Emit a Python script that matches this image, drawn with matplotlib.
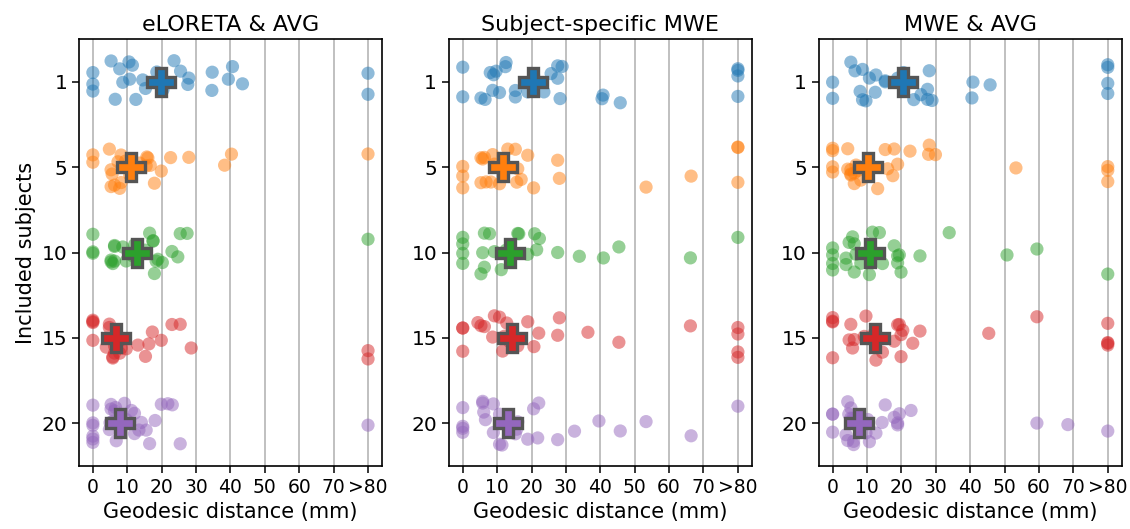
import numpy as np
import pandas as pd
import matplotlib
matplotlib.use("Agg")
import matplotlib.pyplot as plt
import seaborn as sns

titles = ["eLORETA & AVG", "Subject-specific MWE", "MWE & AVG"]
subjects = [1, 5, 10, 15, 20]
xticks = [0, 10, 20, 30, 40, 50, 60, 70, 80]
xticklabels = ["0", "10", "20", "30", "40", "50", "60", "70", ">80"]

# Geodesic distances (mm) per panel and included-subject count; >80 plotted at 80
p1_s1 = [0, 0, 0, 8.7, 6.5, 12.5, 11.5, 7.8, 10.5, 10.7, 5.3, 14.5, 15.3, 18.6, 20.4, 20,
         23.6, 27.6, 25.5, 27.9, 34.7, 34.6, 39.4, 40.6, 43.5, 80, 80]
p1_s5 = [0, 0, 5.3, 7.8, 10.7, 6.3, 8.2, 7.3, 4.8, 5.6, 5.3, 9.5, 8.2, 13.6, 15.5, 15.7,
         16, 16.7, 17.9, 19.9, 22.6, 27.9, 38.3, 40.3, 80]
p1_s10 = [0, 0, 0, 6.3, 5.3, 5.8, 6.3, 9.7, 8.7, 5.3, 6.3, 11.6, 12.1, 15.3, 16.5, 17.5,
          17.9, 17.5, 18.4, 18.9, 20.2, 23, 24.7, 27.4, 25.4, 80]
p1_s15 = [0, 0, 0, 0, 4.8, 5.8, 6.3, 8.1, 3.9, 4.8, 5.8, 6.3, 8.2, 6.3, 7.8, 9.7, 13.1,
          15.3, 16.3, 17.3, 19.9, 23, 25.4, 28.6, 80, 80]
p1_s20 = [0, 0, 0, 0, 0, 0, 5, 5.8, 6.3, 5.3, 5.3, 6.8, 4.8, 6.6, 9.7, 9.2, 11.2, 12.1,
          13.4, 14.1, 12.1, 15.5, 16.5, 18.1, 19.9, 21.8, 23.1, 25.4, 80]

p2_s1 = [0, 0, 9.7, 8.7, 6.5, 9, 12.6, 5.3, 8, 10.7, 12.4, 15.3, 15.3, 18.9, 20.6, 23.6,
         27.6, 25.7, 27.6, 28.3, 28.9, 40.5, 40.8, 45.8, 80, 80, 80, 80]
p2_s5 = [0, 0, 0, 5.3, 8.2, 10.7, 13.1, 8.7, 6.8, 5.3, 5.8, 6.3, 9.2, 11.6, 15.3, 15.7,
         16, 17, 18.9, 20.6, 28.1, 27.6, 53.3, 66.4, 80, 80, 80]
p2_s10 = [0, 0, 0, 0, 5.3, 5.8, 6.3, 7.8, 9.2, 6.3, 11.2, 12.6, 16, 16.3, 18.9, 20.9,
          22.3, 21.5, 27.6, 33.9, 40.9, 45.4, 66.2, 80]
p2_s15 = [0, 0, 4.4, 5.3, 6.3, 8.7, 9.2, 10.7, 12.1, 12.8, 16, 11.6, 13.6, 20.7, 22.1,
          28.1, 27.6, 36.4, 45.4, 18.9, 66.2, 80, 80, 80, 80, 0]
p2_s20 = [0, 0, 0, 0, 5.8, 6.6, 5.8, 6.1, 8.9, 8.9, 10.7, 11.4, 10.7, 13.6, 15.3, 15.7,
          16, 18.9, 20.6, 21.8, 22.1, 27.6, 32.5, 39.6, 45.8, 53.3, 66.4, 80]

p3_s1 = [0, 0, 9.7, 8.7, 6.5, 8.7, 12.6, 5.3, 8, 10.7, 12.4, 15.3, 15.3, 18.9, 20.6, 23.6,
         27.6, 25.7, 27.6, 28.1, 28.9, 40.5, 40.8, 45.8, 80, 80, 80, 80]
p3_s5 = [0, 0, 0, 0, 5.3, 8.2, 13.1, 4.4, 6.3, 7.3, 5.3, 4.4, 5.3, 6.3, 6.8, 16, 17.5,
         17.9, 18.9, 15.3, 22.5, 28.1, 27.9, 29.9, 53.3, 80, 80, 80]
p3_s10 = [0, 0, 0, 0, 3.9, 4.8, 6.3, 3.9, 5.8, 6.8, 10.7, 13.6, 6.3, 8.2, 11.6, 14.5,
          18.9, 18.9, 19.4, 19.9, 17.9, 25.4, 33.9, 50.7, 59.4, 80]
p3_s15 = [0, 0, 0, 0, 5.3, 5.8, 4.8, 6.3, 9.2, 9.7, 12.1, 12.6, 14.5, 17.9, 19.4, 19.9,
          19.9, 23.3, 18.9, 20.4, 25.4, 45.4, 59.4, 80, 80, 80, 80]
p3_s20 = [0, 0, 0, 3.9, 5.8, 5.3, 6.1, 4.4, 4.4, 4.7, 5.3, 6.1, 5.8, 9.7, 10.2, 10.7,
          12.6, 14.4, 15.3, 17.9, 18.9, 19.4, 18.9, 22.8, 59.4, 68.4, 80]

# Summary markers (mm) per panel
p1_center = [19.9, 11.2, 12.9, 6.6, 7.8]
p2_center = [20.4, 11.6, 13.6, 14.4, 13.1]
p3_center = [20.4, 10.4, 10.9, 12.4, 7.8]

panels = [
    ([p1_s1, p1_s5, p1_s10, p1_s15, p1_s20], p1_center),
    ([p2_s1, p2_s5, p2_s10, p2_s15, p2_s20], p2_center),
    ([p3_s1, p3_s5, p3_s10, p3_s15, p3_s20], p3_center),
]

colors = sns.color_palette("tab10", 5)

fig, axes = plt.subplots(1, 3, figsize=(11.3, 5.29), dpi=100)
fig.subplots_adjust(left=0.070, right=0.9925, bottom=0.119, top=0.926, wspace=0.222)

np.random.seed(3)
for ax, title, (groups, centers) in zip(axes, titles, panels):
    rows = []
    for s, vals in zip(subjects, groups):
        for v in vals:
            rows.append({"dist": v, "subj": str(s)})
    df = pd.DataFrame(rows)
    order = [str(s) for s in subjects]
    ax.grid(axis="x", color="#bbbbbb", linewidth=1.3, zorder=0)
    ax.set_axisbelow(True)
    sns.stripplot(data=df, x="dist", y="subj", hue="subj", order=order, hue_order=order,
                  palette=colors, orient="h", jitter=0.26, size=9.5, alpha=0.5,
                  linewidth=0, ax=ax, legend=False, zorder=2)
    for i, c in enumerate(centers):
        ax.plot([c], [i], marker="P", markersize=20, markerfacecolor=colors[i],
                markeredgecolor="#555555", markeredgewidth=2.4, linestyle="none", zorder=5)
    ax.set_xlim(-4, 84)
    ax.set_ylim(4.5, -0.5)
    ax.set_xticks(xticks)
    ax.set_xticklabels(xticklabels)
    ax.set_yticks(range(len(subjects)))
    ax.set_yticklabels([str(s) for s in subjects])
    ax.tick_params(axis="x", labelsize=13.5, length=5, width=1.1)
    ax.tick_params(axis="y", labelsize=14.5, length=5, width=1.1)
    ax.set_xlabel("Geodesic distance (mm)", fontsize=15)
    ax.set_ylabel("")
    ax.set_title(title, fontsize=16)
    for sp in ax.spines.values():
        sp.set_linewidth(1.2)

axes[0].set_ylabel("Included subjects", fontsize=15)

fig.savefig("out.png", dpi=100)
